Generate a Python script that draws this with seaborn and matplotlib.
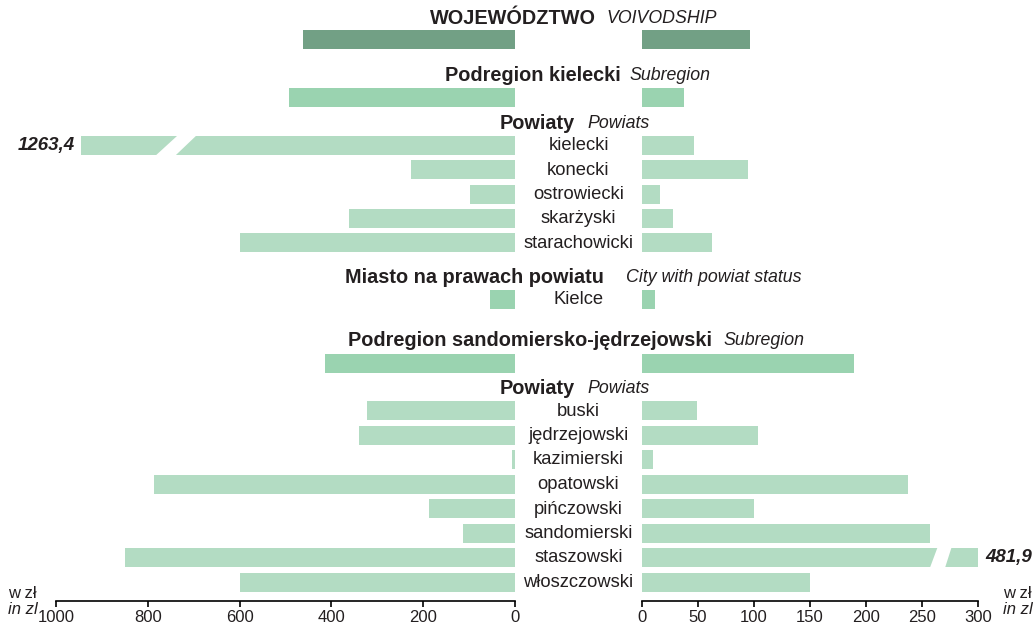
import numpy as np
import pandas as pd
import matplotlib
matplotlib.use("Agg")
import matplotlib.pyplot as plt
import seaborn as sns
from matplotlib import transforms
from matplotlib.patches import Polygon

# ---------------- data ----------------
woj_left = [462]
woj_right = [96.4]
sub1_left = [492]
sub1_right = [37.5]
powiaty1 = ["kielecki", "konecki", "ostrowiecki", "skarżyski", "starachowicki"]
powiaty1_left = [1263.4, 227, 98, 362, 599]
powiaty1_right = [46, 95, 16, 28, 62.5]
city = ["Kielce"]
city_left = [54]
city_right = [11.6]
sub2_left = [414]
sub2_right = [189]
powiaty2 = ["buski", "jędrzejowski", "kazimierski", "opatowski", "pińczowski",
            "sandomierski", "staszowski", "włoszczowski"]
powiaty2_left = [322, 340, 7, 786, 187, 113, 850, 599]
powiaty2_right = [49, 103.6, 9.8, 237.5, 100, 257, 481.9, 150]

left_ticks = [1000, 800, 600, 400, 200, 0]
right_ticks = [0, 50, 100, 150, 200, 250, 300]

# ---------------- styling ----------------
sns.set_theme(style="white")
plt.rcParams["font.family"] = ["Liberation Sans", "DejaVu Sans"]
TXT = "#231f20"
palette = {"woj": "#72a085", "sub": "#9ad3b0", "pow": "#b3dcc3"}
W, H = 1033, 625
LEFT_CAP, RIGHT_CAP = 945, 300

# ---------------- layout ----------------
headers = []
rows = []
cur = [0.0]


def header(bold, ital, gap, xb, xi):
    cur[0] += gap
    headers.append((bold, ital, cur[0], xb, xi))


def bars(labels, lv, rv, level, gap, step=24.3):
    for k, (lab, a, b) in enumerate(zip(labels, lv, rv)):
        cur[0] += gap if k == 0 else step
        rows.append(dict(y=cur[0], label=lab, left=a, right=b, level=level))


# xb / xi: horizontal centres (px) of the bold and italic parts
header("WOJEWÓDZTWO", "VOIVODSHIP", 18.5, 512.5, 662)
bars([""], woj_left, woj_right, "woj", 21)
header("Podregion kielecki", "Subregion", 36, 533, 669.5)
bars([""], sub1_left, sub1_right, "sub", 22)
header("Powiaty", "Powiats", 26, 537.5, 618.5)
bars(powiaty1, powiaty1_left, powiaty1_right, "pow", 22, 24.25)
header("Miasto na prawach powiatu", "City with powiat status", 35, 474, 714)
bars(city, city_left, city_right, "sub", 22)
header("Podregion sandomiersko-jędrzejowski", "Subregion", 41, 530, 763.5)
bars([""], sub2_left, sub2_right, "sub", 23)
header("Powiaty", "Powiats", 25, 537.5, 618.5)
bars(powiaty2, powiaty2_left, powiaty2_right, "pow", 22, 24.5)

df = pd.DataFrame(rows)
df["left_disp"] = df["left"].clip(upper=LEFT_CAP)
df["right_disp"] = df["right"].clip(upper=RIGHT_CAP)
min_gap = np.min(np.diff(np.sort(df["y"].values)))
bar_w = 19.0 / min_gap

# ---------------- figure ----------------
fig = plt.figure(figsize=(W / 100, H / 100), dpi=100)
AX_BOTTOM = 601
axL = fig.add_axes([56 / W, (H - AX_BOTTOM) / H, (515 - 56) / W, AX_BOTTOM / H])
axR = fig.add_axes([642 / W, (H - AX_BOTTOM) / H, (978 - 642) / W, AX_BOTTOM / H])

for ax, col in ((axL, "left_disp"), (axR, "right_disp")):
    sns.barplot(data=df, x=col, y="y", hue="level", palette=palette, orient="h",
                native_scale=True, width=bar_w, dodge=False, errorbar=None,
                legend=False, saturation=1, linewidth=0, ax=ax)
    ax.set_ylim(AX_BOTTOM, 0)
    ax.set_xlabel("")
    ax.set_ylabel("")
    ax.set_yticks([])
    for s in ("left", "right", "top"):
        ax.spines[s].set_visible(False)
    ax.spines["bottom"].set_color("#000000")
    ax.spines["bottom"].set_linewidth(1.2)
    ax.tick_params(axis="x", direction="out", length=4, width=1.2, color="#000000",
                   labelsize=12, labelcolor=TXT, pad=2.5, bottom=True)
    ax.patch.set_alpha(0)

axL.set_xlim(1000, 0)
axL.set_xticks(left_ticks)
axL.set_xticklabels([str(t) for t in left_ticks])
axR.set_xlim(0, 300)
axR.set_xticks(right_ticks)
axR.set_xticklabels([str(t) for t in right_ticks])

# break marks and value labels for truncated bars
half = 10.5
for _, r in df.iterrows():
    y = r["y"]
    if r["left"] > LEFT_CAP:
        poly = Polygon([(LEFT_CAP - 211, y - half), (LEFT_CAP - 252, y - half),
                        (LEFT_CAP - 204, y + half), (LEFT_CAP - 161, y + half)],
                       closed=True, facecolor="white", edgecolor="none", zorder=5)
        axL.add_patch(poly)
        axL.annotate(f"{r['left']:.1f}".replace(".", ","), xy=(r["left_disp"], y),
                     xytext=(-4.5, 0), textcoords="offset points", ha="right", va="center",
                     fontsize=13.5, fontweight="bold", fontstyle="italic", color=TXT,
                     annotation_clip=False)
    if r["right"] > RIGHT_CAP:
        poly = Polygon([(264, y - half), (276.5, y - half),
                        (270.5, y + half), (257, y + half)],
                       closed=True, facecolor="white", edgecolor="none", zorder=5)
        axR.add_patch(poly)
        axR.annotate(f"{r['right']:.1f}".replace(".", ","), xy=(r["right_disp"], y),
                     xytext=(5, 0), textcoords="offset points", ha="left", va="center",
                     fontsize=13.5, fontweight="bold", fontstyle="italic", color=TXT,
                     annotation_clip=False)

blend = transforms.blended_transform_factory(fig.transFigure, axL.transData)
CENTER = 578.5
for _, r in df.iterrows():
    if r["label"]:
        fig.text(CENTER / W, r["y"] + 0.5, r["label"], transform=blend, ha="center",
                 va="center", fontsize=13.2, color=TXT)

for bold, ital, y, xb, xi in headers:
    fig.text(xb / W, y, bold, transform=blend, ha="center", va="center",
             fontsize=14.3, fontweight="bold", color=TXT)
    fig.text(xi / W, y, ital, transform=blend, ha="center", va="center",
             fontsize=12.8, fontstyle="italic", color=TXT)

# unit labels
for xpx in (8, 1003):
    fig.text(xpx / W, 1 - 593 / H, "w zł", ha="left", va="center", fontsize=12, color=TXT)
    fig.text(xpx / W, 1 - 610 / H, "in zl", ha="left", va="center", fontsize=12,
             fontstyle="italic", color=TXT)

fig.savefig("out.png", dpi=100)
